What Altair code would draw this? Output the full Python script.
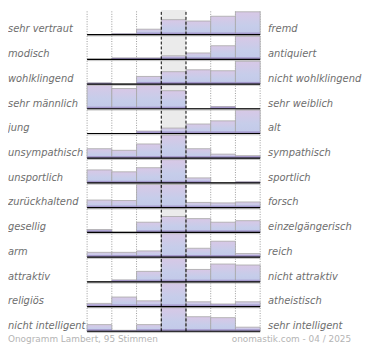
import altair as alt
import pandas as pd

# --- data -------------------------------------------------------------
left_labels = ["sehr vertraut", "modisch", "wohlklingend", "sehr männlich", "jung",
               "unsympathisch", "unsportlich", "zurückhaltend", "gesellig", "arm",
               "attraktiv", "religiös", "nicht intelligent"]
right_labels = ["fremd", "antiquiert", "nicht wohlklingend", "sehr weiblich", "alt",
                "sympathisch", "sportlich", "forsch", "einzelgängerisch", "reich",
                "nicht attraktiv", "atheistisch", "sehr intelligent"]

# bar heights per scale step (relative share, capped at row height 26)
stufe_1 = [0, 0, 1.3, 26, 0, 10, 13.7, 8, 3, 5, 0, 3.3, 7]
stufe_2 = [1, 1.5, 0, 21.3, 0, 8.3, 11.7, 7.5, 0, 5, 2, 10, 1]
stufe_3 = [5.7, 1.5, 8, 25, 2.5, 15, 16, 24.5, 10.7, 6.5, 11, 6, 7]
stufe_4 = [15.7, 3.7, 13, 19, 5.7, 24.5, 24.5, 24.5, 16.7, 26, 25.5, 25.5, 25.5]
stufe_5 = [14.3, 6.7, 15, 0, 10, 10, 5.3, 5.5, 14.5, 9.3, 13, 5, 15.3]
stufe_6 = [19.3, 14.3, 14, 2.3, 13.3, 4.3, 0, 5, 10.7, 16.7, 18.7, 2.7, 14.3]
stufe_7 = [24, 24.3, 24, 0, 25, 2.7, 1.3, 6, 12.3, 3.7, 17.7, 5, 4.3]

footer_left = "Onogramm Lambert, 95 Stimmen"
footer_right = "onomastik.com - 04 / 2025"

ROW = 26            # data units per row
N = len(left_labels)
TOTAL = ROW * N

# --- tables built from the arrays ----------------------------------------
stufen = [stufe_1, stufe_2, stufe_3, stufe_4, stufe_5, stufe_6, stufe_7]
bars = []
for r in range(N):
    base = (N - 1 - r) * ROW
    for c, col in enumerate(stufen):
        v = min(col[r], ROW)
        bars.append({"row": r, "x0": c, "x1": c + 1, "base": base,
                     "top": base + v, "stripe": base + min(v, 2.2)})
bars = pd.DataFrame(bars)

rows = pd.DataFrame({
    "row": list(range(N)),
    "left": left_labels,
    "right": right_labels,
    "base": [(N - 1 - r) * ROW for r in range(N)],
})
rows["ly"] = rows["base"] + 5.5
rows["x0"] = 0
rows["x1"] = 7

grid_dotted = pd.DataFrame({"x": [0, 1, 2, 5, 6, 7], "y0": 0, "y1": TOTAL})
grid_dashed = pd.DataFrame({"x": [3, 4], "y0": 0, "y1": TOTAL})
mid = pd.DataFrame({"a": [3], "b": [4], "y0": [0], "y1": [TOTAL]})

W, H = 175, 325
xs = alt.Scale(domain=[0, 7], nice=False, zero=False)
ys = alt.Scale(domain=[0, TOTAL], nice=False, zero=False)

FONT = "DejaVu Sans"
LABEL_COLOR = "#6e6e6e"

bg = alt.Chart(mid).mark_rect(color="#ebebeb").encode(
    x=alt.X("a:Q", scale=xs, axis=None), x2="b:Q",
    y=alt.Y("y0:Q", scale=ys, axis=None), y2="y1:Q")

dotted = alt.Chart(grid_dotted).mark_rule(color="#9a9a9a", strokeDash=[1, 1.5], strokeWidth=1).encode(
    x=alt.X("x:Q", scale=xs, axis=None),
    y=alt.Y("y0:Q", scale=ys, axis=None), y2="y1:Q")

grad = {
    "gradient": "linear",
    "x1": 0, "y1": 0, "x2": 0, "y2": 1,
    "stops": [{"offset": 0, "color": "#d8c8e6"},
              {"offset": 0.6, "color": "#c6cdea"},
              {"offset": 1, "color": "#c2c9e9"}],
}

barl = alt.Chart(bars).mark_rect(fill=grad, stroke="#a8a8a8", strokeWidth=0.8).encode(
    x=alt.X("x0:Q", scale=xs, axis=None), x2="x1:Q",
    y=alt.Y("base:Q", scale=ys, axis=None), y2="top:Q")

stripe = alt.Chart(bars).mark_rect(fill="#9a88c2", opacity=0.75).encode(
    x=alt.X("x0:Q", scale=xs, axis=None), x2="x1:Q",
    y=alt.Y("base:Q", scale=ys, axis=None), y2="stripe:Q")

dashed = alt.Chart(grid_dashed).mark_rule(color="#000000", strokeDash=[3, 2], strokeWidth=1).encode(
    x=alt.X("x:Q", scale=xs, axis=None),
    y=alt.Y("y0:Q", scale=ys, axis=None), y2="y1:Q")

shadow = alt.Chart(rows).mark_rule(color="#b4b4b4", strokeWidth=0.8, yOffset=1.3).encode(
    x=alt.X("x0:Q", scale=xs, axis=None), x2="x1:Q",
    y=alt.Y("base:Q", scale=ys, axis=None))

baseline = alt.Chart(rows).mark_rule(color="#000000", strokeWidth=1.2).encode(
    x=alt.X("x0:Q", scale=xs, axis=None), x2="x1:Q",
    y=alt.Y("base:Q", scale=ys, axis=None))

ltext = alt.Chart(rows).mark_text(align="left", baseline="middle", font=FONT, fontSize=10,
                                  fontStyle="italic", color=LABEL_COLOR).encode(
    x=alt.value(-80), y=alt.Y("ly:Q", scale=ys, axis=None), text="left:N")

rtext = alt.Chart(rows).mark_text(align="left", baseline="middle", font=FONT, fontSize=10,
                                  fontStyle="italic", color=LABEL_COLOR).encode(
    x=alt.value(W + 8), y=alt.Y("ly:Q", scale=ys, axis=None), text="right:N")

foot = pd.DataFrame({"l": [footer_left], "r": [footer_right]})
fl = alt.Chart(foot).mark_text(align="left", baseline="alphabetic", font=FONT, fontSize=9,
                               color="#b4b4b4").encode(
    x=alt.value(-80), y=alt.value(H + 11), text="l:N")
fr = alt.Chart(foot).mark_text(align="right", baseline="alphabetic", font=FONT, fontSize=9,
                               color="#b4b4b4").encode(
    x=alt.value(267), y=alt.value(H + 11), text="r:N")

chart = alt.layer(bg, dotted, barl, stripe, dashed, shadow, baseline, ltext, rtext, fl, fr).properties(
    width=W, height=H,
    autosize=alt.AutoSizeParams(type="none"),
    padding={"left": 80, "top": 0, "right": 103, "bottom": 14},
).configure_view(stroke=None)

chart.save("out.html", embed_options={"renderer": "svg", "actions": False})
